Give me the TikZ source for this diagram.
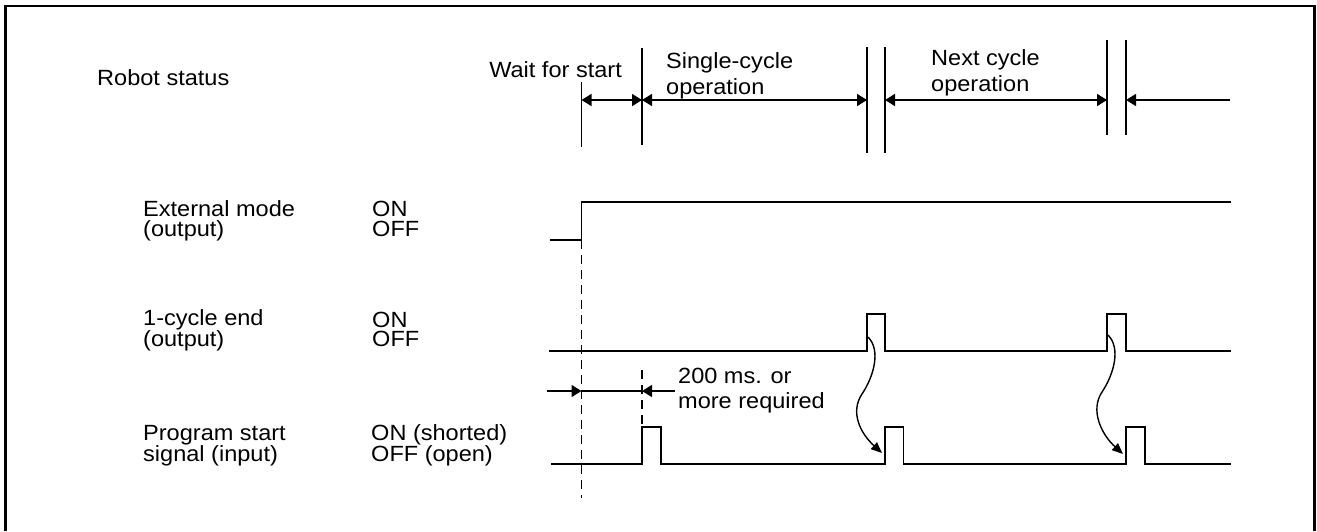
\documentclass[tikz,border=0pt]{standalone}
\usepackage{fontspec}
\setmainfont[FakeStretch=1.07]{Liberation Sans}
\usetikzlibrary{arrows.meta,calc}

\begin{document}
\begin{tikzpicture}[x=1pt,y=-1pt,
  lbl/.style={anchor=base west,inner sep=0pt,align=left,font=\fontsize{22}{19.5}\selectfont},
  hdr/.style={lbl,font=\fontsize{22}{26}\selectfont},
  wave/.style={line width=1.8pt},
  tick/.style={line width=1.8pt},
  guide/.style={line width=1.3pt,dash pattern=on 9pt off 6pt},
  tip/.style={line width=1.6pt,-{Triangle[length=10pt,width=12pt]}},
  span/.style={line width=1.6pt,{Triangle[length=10pt,width=12pt]}-{Triangle[length=10pt,width=12pt]}},
  curvy/.style={line width=1.4pt,-{Triangle[length=11pt,width=9pt]}}]
  \useasboundingbox (0,0) rectangle (1317,531);
  % frame, bottom edge runs off the page
  \draw[line width=2.8pt] (5.5,531) -- (5.5,6) -- (1314.5,6) -- (1314.5,531);

  % labels (base = baseline of the last line)
  \node[lbl] (robot) at (97,85) {Robot status};
  \node[lbl,anchor=base east] (wait) at (622,77) {Wait for start};
  \node[hdr] (single) at (666,94) {Single-cycle\\operation};
  \node[hdr] (next) at (931,91) {Next cycle\\operation};
  \node[lbl] (extname) at (143,236.2) {External mode\\(output)};
  \node[lbl] (extlvl) at (372,236.2) {ON\\OFF};
  \node[lbl] (cycname) at (143,346.8) {1-cycle end\\(output)};
  \node[lbl] (cyclvl) at (372,346.8) {ON\\OFF};
  \node[lbl] (prgname) at (143,461.8) {Program start\\signal (input)};
  \node[lbl] (prglvl) at (371,461.8) {ON (shorted)\\OFF (open)};
  \node[hdr,font=\fontsize{22}{25}\selectfont] (note) at (678,408.3) {200 ms. or\\more required};

  % robot status spans
  \foreach \x/\a/\b in {581.5/82/147, 642/48/145, 867/47/153, 885/47/153, 1107/40/135, 1126/40/135}
    \draw[tick] (\x,\a) -- (\x,\b);
  \coordinate (h0) at (581.5,100);
  \coordinate (h1) at (642,100);
  \coordinate (h2a) at (867,100);
  \coordinate (h2b) at (885,100);
  \coordinate (h3a) at (1107,100);
  \coordinate (h3b) at (1126,100);
  \coordinate (hend) at (1230,100);
  \draw[span] (h0) -- (h1);
  \draw[span] (h1) -- (h2a);
  \draw[span] (h2b) -- (h3a);
  \draw[tip] (hend) -- (h3b);

  % signals
  \draw[wave] (550,240) -- (581.5,240) -- (581.5,202) -- (1231,202);
  \draw[wave] (549,351) -| (867,314) -| (885,351) -| (1107,314) -| (1126,351) -- (1231,351);
  \draw[wave] (551,464) -| (642,427) -| (661,464) -| (885,427) -| (903.5,464)
    -| (1126,427) -| (1145,464) -- (1231,464);

  % 200 ms
  \draw[guide] (581.5,240) -- (581.5,498);
  \draw[guide] (642,370) -- (642,427);
  \coordinate (m0) at (581.5,391);
  \coordinate (m1) at (642,391);
  \coordinate (ml) at (547,391);
  \coordinate (mr) at (675,391);
  \draw[tip] (ml) -- (m0);
  \draw[line width=1.6pt] (m0) -- (m1);
  \draw[tip] (mr) -- (m1);

  % end of cycle -> next start
  \def\handoff#1#2{\draw[curvy] (#1) .. controls +(13,13) and +(12,-18) .. ++(-6,57)
    .. controls +(-12,18) and +(-22,-20) .. (#2);}
  \coordinate (s1) at (868,337);
  \coordinate (e1) at (882,453);
  \coordinate (s2) at (1108,335);
  \coordinate (e2) at (1123,454);
  \handoff{s1}{e1}
  \handoff{s2}{e2}
\end{tikzpicture}
\end{document}
